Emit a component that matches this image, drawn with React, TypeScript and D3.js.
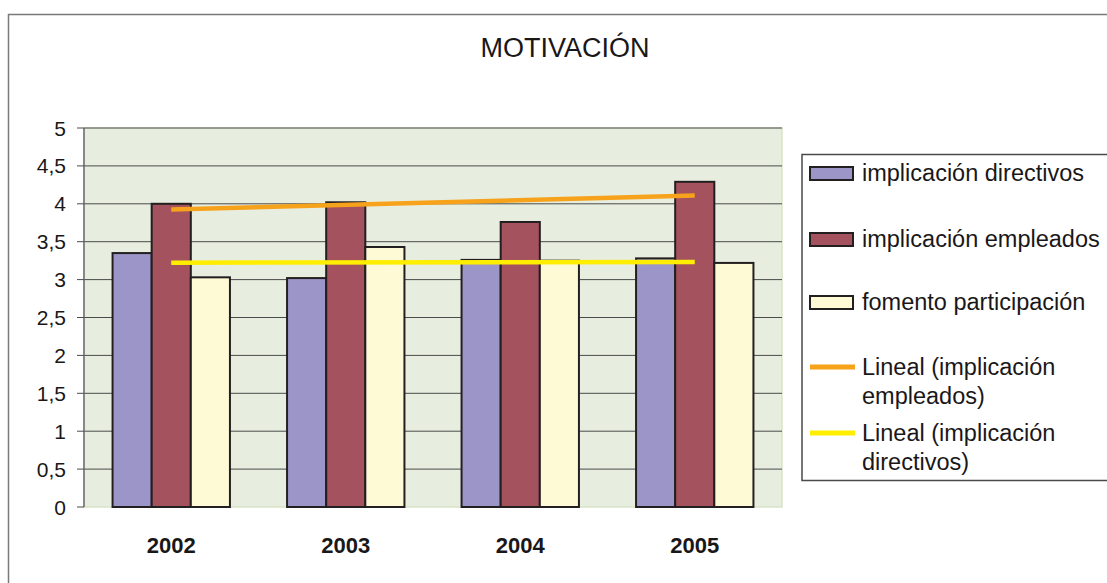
import { useEffect, useRef } from 'react'
import * as d3 from 'd3'

const years = ['2002', '2003', '2004', '2005']
const seriesNames = ['implicación directivos', 'implicación empleados', 'fomento participación']
const directivos = [3.35, 3.02, 3.26, 3.28]
const empleados = [4.0, 4.02, 3.76, 4.29]
const fomento = [3.03, 3.43, 3.25, 3.22]
const yTicks = [0, 0.5, 1, 1.5, 2, 2.5, 3, 3.5, 4, 4.5, 5]

const barColors = ['#9c95c8', '#a4525e', '#fffad6']

// least squares fit, returns value at first and last index
function linearFit(values: number[]) {
  const n = values.length
  const xs = values.map((_, i) => i)
  const mx = d3.mean(xs)!
  const my = d3.mean(values)!
  let num = 0
  let den = 0
  xs.forEach((x, i) => {
    num += (x - mx) * (values[i] - my)
    den += (x - mx) * (x - mx)
  })
  const slope = num / den
  return [my - slope * mx, my + slope * (n - 1 - mx)]
}

export default function App() {
  const svgRef = useRef<SVGSVGElement>(null)

  useEffect(() => {
    document.body.style.margin = '0'
    if (!svgRef.current) return
    const svg = d3.select(svgRef.current)
    svg.selectAll('*').remove()

    const font = '"Liberation Sans", Arial, sans-serif'
    const left = 84
    const right = 782
    const top = 128
    const bottom = 507

    // outer frame
    svg.append('rect')
      .attr('x', 8.5).attr('y', 14.5)
      .attr('width', 1120).attr('height', 600)
      .attr('fill', '#fff').attr('stroke', '#7a7a7a').attr('stroke-width', 1.5)

    svg.append('text')
      .attr('x', 565).attr('y', 57)
      .attr('text-anchor', 'middle')
      .attr('font-family', font).attr('font-size', 27)
      .attr('fill', '#1a1718')
      .text('MOTIVACIÓN')

    const x0 = d3.scaleBand().domain(years).range([left, right])
    const x1 = d3.scaleBand().domain(seriesNames).range([0, x0.bandwidth()]).paddingOuter(0.73)
    const y = d3.scaleLinear().domain([0, 5]).range([bottom, top])

    // plot background
    svg.append('rect')
      .attr('x', left).attr('y', top)
      .attr('width', right - left).attr('height', bottom - top)
      .attr('fill', '#e7eddf').attr('stroke', '#d8e3c8').attr('stroke-width', 1.5)

    const g = svg.append('g')

    g.selectAll('line.grid')
      .data(yTicks.filter(t => t > 0))
      .join('line')
      .attr('class', 'grid')
      .attr('x1', left).attr('x2', right)
      .attr('y1', d => y(d)).attr('y2', d => y(d))
      .attr('stroke', '#4a4a4a').attr('stroke-width', 1)

    // y axis
    g.append('line')
      .attr('x1', left).attr('x2', left)
      .attr('y1', top).attr('y2', bottom)
      .attr('stroke', '#6a6a6a').attr('stroke-width', 1.5)

    g.selectAll('line.tick')
      .data(yTicks)
      .join('line')
      .attr('class', 'tick')
      .attr('x1', left - 7).attr('x2', left)
      .attr('y1', d => y(d)).attr('y2', d => y(d))
      .attr('stroke', '#4a4a4a').attr('stroke-width', 1)

    g.selectAll('text.ylab')
      .data(yTicks)
      .join('text')
      .attr('class', 'ylab')
      .attr('x', 66)
      .attr('y', d => y(d))
      .attr('dy', '0.36em')
      .attr('text-anchor', 'end')
      .attr('font-family', font).attr('font-size', 21)
      .attr('fill', '#1a1718')
      .text(d => String(d).replace('.', ','))

    // bars
    const allSeries = [directivos, empleados, fomento]
    const barData = years.flatMap((yr, i) =>
      seriesNames.map((s, j) => ({ yr, s, j, v: allSeries[j][i] })))

    g.selectAll('rect.bar')
      .data(barData)
      .join('rect')
      .attr('class', 'bar')
      .attr('x', d => x0(d.yr)! + x1(d.s)!)
      .attr('y', d => y(d.v))
      .attr('width', x1.bandwidth())
      .attr('height', d => bottom - y(d.v))
      .attr('fill', d => barColors[d.j])
      .attr('stroke', '#231f20').attr('stroke-width', 2)

    // trend lines
    const trends = [
      { values: empleados, color: '#f7a21b' },
      { values: directivos, color: '#ffee00' },
    ]
    trends.forEach(t => {
      const [a, b] = linearFit(t.values)
      g.append('line')
        .attr('x1', x0(years[0])! + x0.bandwidth() / 2)
        .attr('x2', x0(years[years.length - 1])! + x0.bandwidth() / 2)
        .attr('y1', y(a)).attr('y2', y(b))
        .attr('stroke', t.color).attr('stroke-width', 4.5)
    })

    // x labels
    g.selectAll('text.xlab')
      .data(years)
      .join('text')
      .attr('class', 'xlab')
      .attr('x', d => x0(d)! + x0.bandwidth() / 2)
      .attr('y', 553)
      .attr('text-anchor', 'middle')
      .attr('font-family', font).attr('font-size', 22).attr('font-weight', 'bold')
      .attr('fill', '#1a1718')
      .text(d => d)

    // legend
    const lg = svg.append('g')
    lg.append('rect')
      .attr('x', 802).attr('y', 154.5)
      .attr('width', 320).attr('height', 326)
      .attr('fill', '#fff').attr('stroke', '#4a4a4a').attr('stroke-width', 1.5)

    const barItemY = [173, 239, 302]
    seriesNames.forEach((s, j) => {
      lg.append('rect')
        .attr('x', 810).attr('y', barItemY[j] - 6)
        .attr('width', 43).attr('height', 13)
        .attr('fill', barColors[j])
        .attr('stroke', '#231f20').attr('stroke-width', 2)
      lg.append('text')
        .attr('x', 862).attr('y', barItemY[j])
        .attr('dy', '0.36em')
        .attr('font-family', font).attr('font-size', 23.5)
        .attr('fill', '#1a1718')
        .text(s)
    })

    const lineItems = [
      { y: 367, lines: ['Lineal (implicación', 'empleados)'], color: '#f7a21b' },
      { y: 433, lines: ['Lineal (implicación', 'directivos)'], color: '#ffee00' },
    ]
    lineItems.forEach(it => {
      lg.append('line')
        .attr('x1', 810).attr('x2', 855)
        .attr('y1', it.y).attr('y2', it.y)
        .attr('stroke', it.color).attr('stroke-width', 5)
      it.lines.forEach((l, k) => {
        lg.append('text')
          .attr('x', 862).attr('y', it.y + k * 28.5)
          .attr('dy', '0.36em')
          .attr('font-family', font).attr('font-size', 23.5)
          .attr('fill', '#1a1718')
          .text(l)
      })
    })
  }, [])

  return <svg ref={svgRef} width={1107} height={583} style={{ display: 'block' }} />
}
